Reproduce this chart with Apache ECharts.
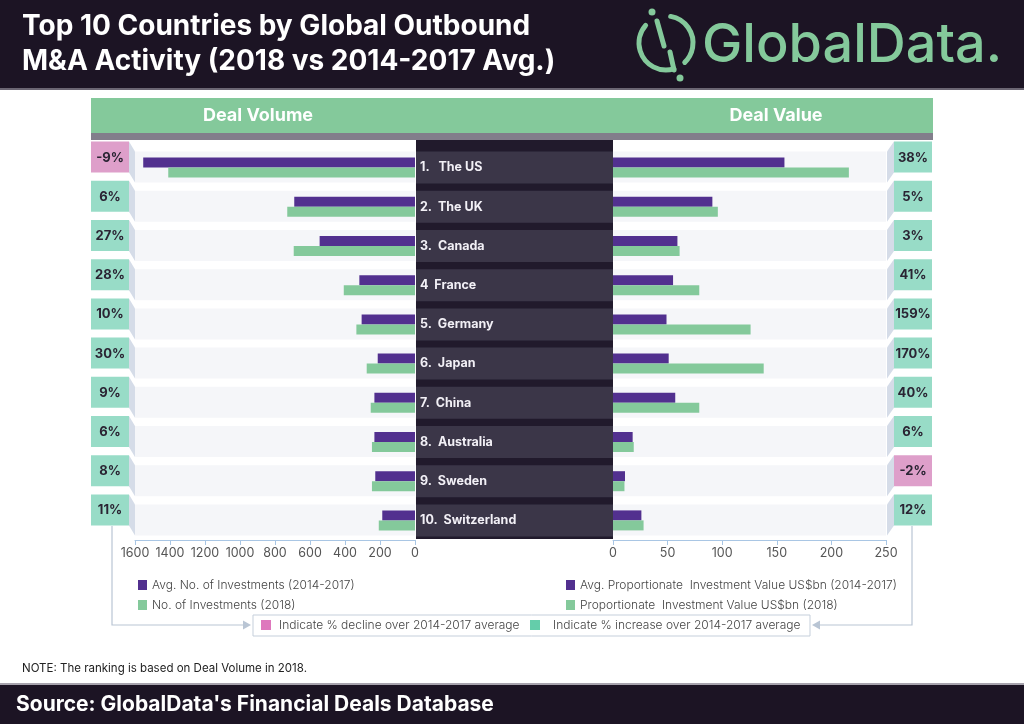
<!DOCTYPE html>
<html>
<head>
<meta charset="utf-8">
<script src="https://cdn.jsdelivr.net/npm/echarts@6/dist/echarts.min.js"></script>
<style>
html, body { margin: 0; padding: 0; background: #fff; }
#chart { width: 1024px; height: 724px; }
</style>
</head>
<body>
<div id="chart"></div>
<script>
var chart = echarts.init(document.getElementById('chart'));

// ranking by deal volume in 2018
var countries = ['The US', 'The UK', 'Canada', 'France', 'Germany', 'Japan', 'China', 'Australia', 'Sweden', 'Switzerland'];
var rankLabels = ['1. ', '2.', '3.', '4', '5.', '6.', '7.', '8.', '9.', '10.'];

// deal volume (number of investments)
var volAvg = [1553, 690, 545, 318, 305, 213, 232, 232, 227, 187];
var vol2018 = [1410, 730, 693, 407, 335, 276, 253, 246, 246, 207];
var volChange = [-9, 6, 27, 28, 10, 30, 9, 6, 8, 11];

// deal value (US$bn)
var valAvg = [157, 91, 59, 55, 49, 51, 57, 18, 11, 26];
var val2018 = [216, 96, 61, 79, 126, 138, 79, 19, 10.5, 28];
var valChange = [38, 5, 3, 41, 159, 170, 40, 6, -2, 12];

var volMax = 1600, volStep = 200;
var valMax = 250, valStep = 50;

var names = {
    volAvg: 'Avg. No. of Investments (2014-2017)',
    vol2018: 'No. of Investments (2018)',
    valAvg: 'Avg. Proportionate  Investment Value US$bn (2014-2017)',
    val2018: 'Proportionate  Investment Value US$bn (2018)'
};

var PURPLE = '#52308f';
var GREEN = '#84c99b';
var DARK = '#1c1424';
var FONT = 'Inter';

// light row band + the % change box next to it
function sideRender(side) {
    return function (params, api) {
        var c = api.coord([0, api.value(1)])[1];
        var cs = params.coordSys;
        var pct = api.value(2);
        var fill = pct < 0 ? '#de9fca' : '#98dcc7';
        var kids = [{
            type: 'rect', shape: { x: cs.x, y: c - 16, width: cs.width, height: 31 },
            style: { fill: '#f5f6f9' }
        }];
        var bx;
        if (side === 'left') {
            var e = cs.x;
            kids.push({ type: 'polygon', shape: { points: [[e - 6, c - 26], [e, c - 16], [e, c + 15], [e - 6, c + 5]] }, style: { fill: '#d5dce8' } });
            bx = e - 44;
        } else {
            var r = cs.x + cs.width;
            kids.push({ type: 'polygon', shape: { points: [[r + 1, c - 16], [r + 8, c - 26], [r + 8, c + 5], [r + 1, c + 15]] }, style: { fill: '#d5dce8' } });
            bx = r + 8;
        }
        kids.push({ type: 'rect', shape: { x: bx, y: c - 26, width: 38, height: 31 }, style: { fill: fill } });
        kids.push({
            type: 'text', x: bx + 19, y: c - 10,
            style: { text: pct + '%', align: 'center', verticalAlign: 'middle', fill: '#2a2433', font: 'bold 13px ' + FONT }
        });
        return { type: 'group', children: kids };
    };
}

function centerRender(params, api) {
    var idx = api.value(1);
    var c = api.coord([0, idx])[1];
    var cs = params.coordSys;
    return {
        type: 'group', children: [
            { type: 'rect', shape: { x: cs.x, y: c - 16, width: cs.width, height: 32 }, style: { fill: '#3b3648' } },
            {
                type: 'text', x: cs.x + 4, y: c,
                style: { text: rankLabels[idx] + '  ' + countries[idx], align: 'left', verticalAlign: 'middle', fill: '#f2f0f6', font: 'bold 12.5px ' + FONT }
            }
        ]
    };
}

var axisCommon = {
    type: 'value',
    axisLine: { show: true, lineStyle: { color: '#a9c6e4' } },
    axisTick: { show: true, length: 5, lineStyle: { color: '#a9c6e4' } },
    axisLabel: { color: '#555', fontSize: 12.5, fontFamily: FONT, margin: 7, formatter: function (v) { return String(v); } },
    splitLine: { show: false }
};

var legendCommon = {
    orient: 'vertical', top: 574, icon: 'rect', itemWidth: 9, itemHeight: 10, itemGap: 8,
    selectedMode: false,
    textStyle: { color: '#444', fontSize: 12, fontFamily: FONT, fontWeight: 300 }
};

var option = {
    animation: false,
    backgroundColor: '#fff',
    grid: [
        { left: 135, right: 1024 - 415, top: 148, height: 392 },
        { left: 613, right: 1024 - 886, top: 148, height: 392 },
        { left: 416, right: 1024 - 613, top: 148, height: 392 }
    ],
    xAxis: [
        Object.assign({}, axisCommon, { gridIndex: 0, inverse: true, min: 0, max: volMax, interval: volStep }),
        Object.assign({}, axisCommon, { gridIndex: 1, min: 0, max: valMax, interval: valStep }),
        { gridIndex: 2, type: 'value', min: 0, max: 1, show: false }
    ],
    yAxis: [0, 1, 2].map(function (g) {
        return { gridIndex: g, type: 'category', inverse: true, data: countries, show: false };
    }),
    legend: [
        Object.assign({}, legendCommon, { left: 133, data: [names.volAvg, names.vol2018] }),
        Object.assign({}, legendCommon, { left: 561, data: [names.valAvg, names.val2018] })
    ],
    series: [
        {
            type: 'custom', xAxisIndex: 0, yAxisIndex: 0, z: 1, clip: false, silent: true,
            renderItem: sideRender('left'), encode: { x: 0, y: 1 },
            data: volChange.map(function (v, i) { return [0, i, v]; })
        },
        {
            type: 'custom', xAxisIndex: 1, yAxisIndex: 1, z: 1, clip: false, silent: true,
            renderItem: sideRender('right'), encode: { x: 0, y: 1 },
            data: valChange.map(function (v, i) { return [0, i, v]; })
        },
        {
            type: 'custom', xAxisIndex: 2, yAxisIndex: 2, z: 2, clip: false, silent: true,
            renderItem: centerRender, encode: { x: 0, y: 1 },
            data: countries.map(function (n, i) { return [0, i]; })
        },
        { name: names.volAvg, type: 'bar', xAxisIndex: 0, yAxisIndex: 0, z: 3, barWidth: 10, barGap: '0%', itemStyle: { color: PURPLE }, data: volAvg },
        { name: names.vol2018, type: 'bar', xAxisIndex: 0, yAxisIndex: 0, z: 3, barWidth: 10, barGap: '0%', itemStyle: { color: GREEN }, data: vol2018 },
        { name: names.valAvg, type: 'bar', xAxisIndex: 1, yAxisIndex: 1, z: 3, barWidth: 10, barGap: '0%', itemStyle: { color: PURPLE }, data: valAvg },
        { name: names.val2018, type: 'bar', xAxisIndex: 1, yAxisIndex: 1, z: 3, barWidth: 10, barGap: '0%', itemStyle: { color: GREEN }, data: val2018 }
    ],
    graphic: [
        // header
        { type: 'rect', z: 0, shape: { x: 0, y: 0, width: 1024, height: 88 }, style: { fill: DARK } },
        { type: 'rect', z: 0, shape: { x: 0, y: 88, width: 1024, height: 2 }, style: { fill: '#6b6673' } },
        {
            type: 'text', z: 1, left: 22, top: 9,
            style: { text: 'Top 10 Countries by Global Outbound\nM&A Activity (2018 vs 2014-2017 Avg.)', fill: '#fff', font: 'bold 28px ' + FONT, lineHeight: 35 }
        },
        // logo
        { type: 'arc', z: 1, shape: { cx: 666, cy: 43, r: 27, startAngle: 73 * Math.PI / 180, endAngle: 221 * Math.PI / 180, clockwise: true }, style: { stroke: GREEN, lineWidth: 5, fill: null, lineCap: 'round' } },
        { type: 'arc', z: 1, shape: { cx: 666, cy: 43, r: 27, startAngle: -80 * Math.PI / 180, endAngle: 46 * Math.PI / 180, clockwise: true }, style: { stroke: GREEN, lineWidth: 5, fill: null, lineCap: 'round' } },
        { type: 'line', z: 1, shape: { x1: 657, y1: 21, x2: 664, y2: 46 }, style: { stroke: GREEN, lineWidth: 5, lineCap: 'round' } },
        { type: 'line', z: 1, shape: { x1: 670, y1: 52, x2: 674, y2: 70 }, style: { stroke: GREEN, lineWidth: 5, lineCap: 'round' } },
        { type: 'circle', z: 1, shape: { cx: 652, cy: 12, r: 3.5 }, style: { fill: GREEN } },
        { type: 'circle', z: 1, shape: { cx: 680, cy: 78, r: 3.5 }, style: { fill: GREEN } },
        { type: 'text', z: 1, left: 702, top: 19, style: { text: 'GlobalData.', fill: GREEN, font: '500 54px ' + FONT } },
        // column headers
        { type: 'rect', z: 0, shape: { x: 91, y: 98, width: 842, height: 35 }, style: { fill: GREEN } },
        { type: 'rect', z: 0, shape: { x: 91, y: 133, width: 842, height: 7 }, style: { fill: '#827e8b' } },
        { type: 'text', z: 1, x: 258, y: 116, style: { text: 'Deal Volume', fill: '#fff', font: 'bold 18px ' + FONT, align: 'center', verticalAlign: 'middle' } },
        { type: 'text', z: 1, x: 776, y: 116, style: { text: 'Deal Value', fill: '#fff', font: 'bold 18px ' + FONT, align: 'center', verticalAlign: 'middle' } },
        // centre column backdrop
        { type: 'rect', z: 0, shape: { x: 416, y: 140, width: 197, height: 399 }, style: { fill: '#211a2c' } },
        // brackets to the colour key
        { type: 'polyline', z: 0, shape: { points: [[112, 526], [112, 625], [245, 625]] }, style: { stroke: '#b9c5d4', lineWidth: 1.2, fill: null } },
        { type: 'polygon', z: 0, shape: { points: [[243, 620.5], [251, 625], [243, 629.5]] }, style: { fill: '#b9c5d4' } },
        { type: 'polyline', z: 0, shape: { points: [[912, 526], [912, 625], [818, 625]] }, style: { stroke: '#b9c5d4', lineWidth: 1.2, fill: null } },
        { type: 'polygon', z: 0, shape: { points: [[820, 620.5], [812, 625], [820, 629.5]] }, style: { fill: '#b9c5d4' } },
        { type: 'rect', z: 1, shape: { x: 253, y: 615, width: 557, height: 21 }, style: { fill: '#fff', stroke: '#c5cfdb', lineWidth: 1 } },
        { type: 'rect', z: 2, shape: { x: 261, y: 620, width: 10, height: 10 }, style: { fill: '#de78bd' } },
        { type: 'text', z: 2, x: 279, y: 625.5, style: { text: 'Indicate % decline over 2014-2017 average', fill: '#444', font: '300 12px ' + FONT, verticalAlign: 'middle' } },
        { type: 'rect', z: 2, shape: { x: 530, y: 620, width: 10, height: 10 }, style: { fill: '#64cdaa' } },
        { type: 'text', z: 2, x: 553, y: 625.5, style: { text: 'Indicate % increase over 2014-2017 average', fill: '#444', font: '300 12px ' + FONT, verticalAlign: 'middle' } },
        // note and footer
        { type: 'text', z: 1, x: 22, y: 669, style: { text: 'NOTE: The ranking is based on Deal Volume in 2018.', fill: '#222', font: '11.5px ' + FONT, verticalAlign: 'middle' } },
        { type: 'rect', z: 0, shape: { x: 0, y: 683, width: 1024, height: 2 }, style: { fill: '#a7a3ad' } },
        { type: 'rect', z: 0, shape: { x: 0, y: 685, width: 1024, height: 39 }, style: { fill: DARK } },
        { type: 'text', z: 1, x: 16, y: 705, style: { text: "Source: GlobalData's Financial Deals Database", fill: '#fff', font: 'bold 21px ' + FONT, verticalAlign: 'middle' } }
    ]
};
chart.setOption(option);
</script>
</body>
</html>
